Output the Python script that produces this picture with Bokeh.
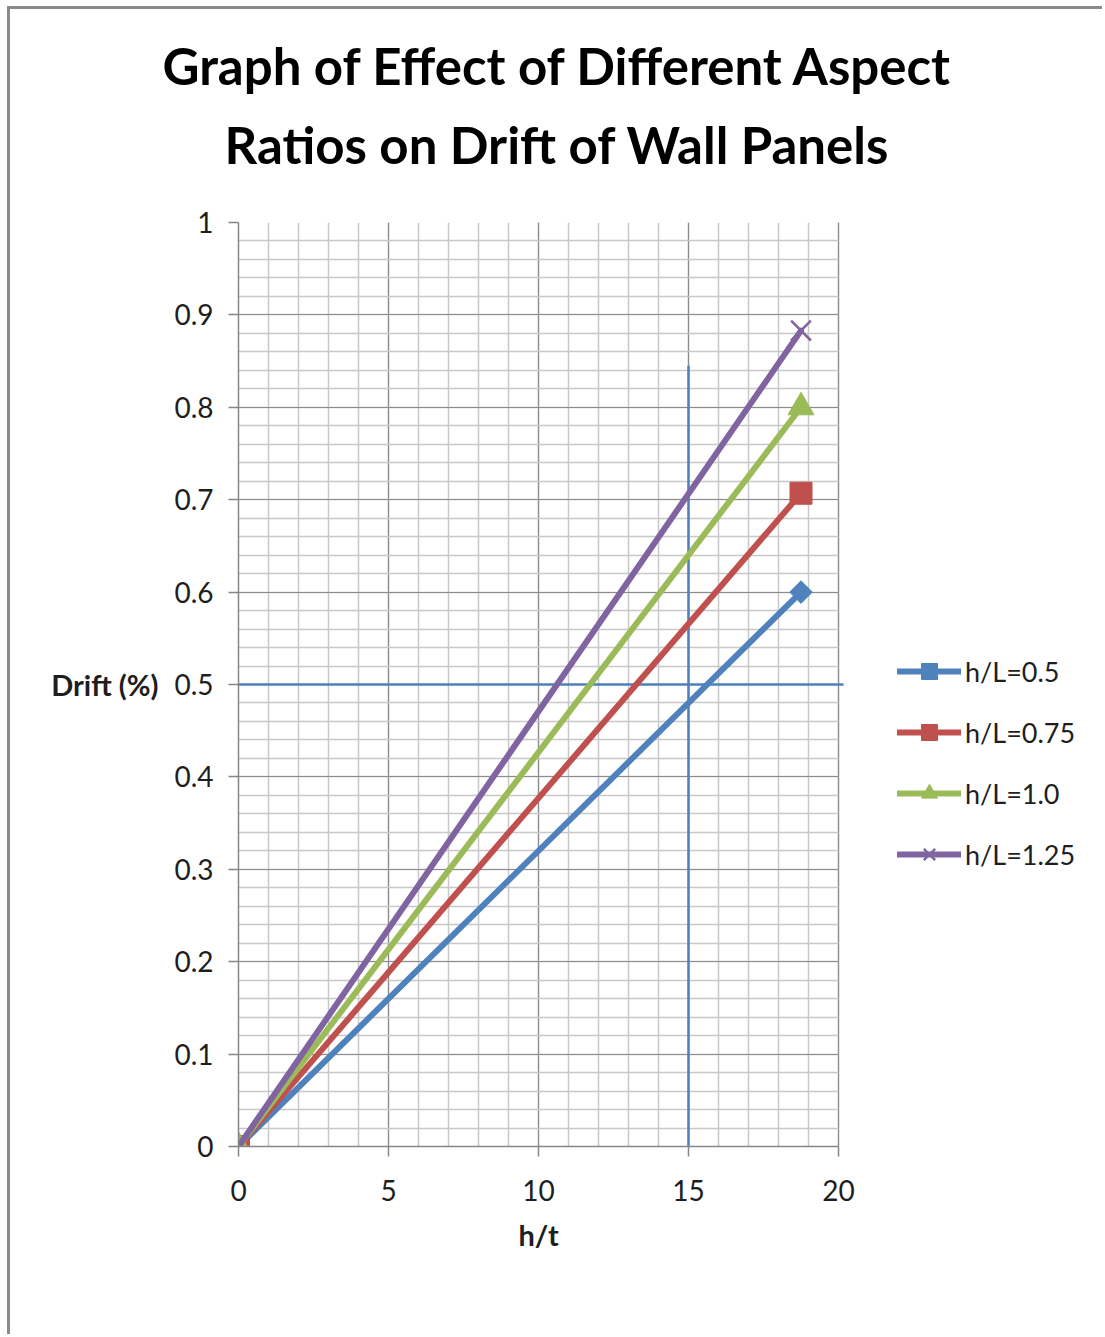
import math

from bokeh.embed import file_html
from bokeh.models import (CustomJSTickFormatter, FixedTicker, Legend,
                          LegendItem, Range1d, Title)
from bokeh.plotting import figure
from bokeh.resources import INLINE

# ---- data -------------------------------------------------------------
ht_values = [0, 18.75]                 # h/t
drift_hl_050 = [0, 0.600]              # drift (%) for h/L = 0.5
drift_hl_075 = [0, 0.707]              # drift (%) for h/L = 0.75
drift_hl_100 = [0, 0.800]              # drift (%) for h/L = 1.0
drift_hl_125 = [0, 0.883]              # drift (%) for h/L = 1.25
series_labels = ["h/L=0.5", "h/L=0.75", "h/L=1.0", "h/L=1.25"]

x_ticks = [0, 5, 10, 15, 20]
y_ticks = [0, 0.1, 0.2, 0.3, 0.4, 0.5, 0.6, 0.7, 0.8, 0.9, 1.0]
x_max, y_max = 20, 1

limit_drift = 0.5       # horizontal reference line (drift %)
limit_ht = 15           # vertical reference line (h/t)
limit_ht_top = 0.845    # upper end of the h/t reference line

# ---- styling ----------------------------------------------------------
FONT = "Lato"
BLUE, RED, GREEN, PURPLE = "#4F81BD", "#C0504D", "#9BBB59", "#8064A2"
TEXT = "#1e1e1e"
AXIS_GREY = "#868686"

# The plot area continues to the right of h/t = 20 so that the legend can
# sit beside the grid; axis and grid are bounded to the 0..20 span.
p = figure(
    width=1095, height=1328,
    min_border_left=228, min_border_right=0,
    min_border_top=213, min_border_bottom=191,
    x_range=Range1d(0, 28.9), y_range=Range1d(0, y_max),
    output_backend="svg", toolbar_location=None, tools="",
    background_fill_color="white", border_fill_color="white",
)
p.outline_line_color = None
# chart-area border (top and left edges)
p.styles = {"margin-left": "7px", "margin-top": "6px",
            "border-left": "3px solid #8a8a8a",
            "border-top": "3px solid #8a8a8a"}

# two-line title, nearest line first
for txt, off, stand in [("Ratios on Drift of Wall Panels", -14, 95),
                        ("Graph of Effect of Different Aspect", -76, -62)]:
    p.add_layout(Title(text=txt, align="left", offset=off, standoff=stand,
                       text_font=FONT, text_font_size="51px",
                       text_font_style="bold", text_color="black"), "above")

# ---- grid -------------------------------------------------------------
minor_x = [i for i in range(21)]
minor_y = [round(i * 0.02, 2) for i in range(51)]
p.xgrid.ticker = FixedTicker(ticks=x_ticks, minor_ticks=minor_x)
p.ygrid.ticker = FixedTicker(ticks=y_ticks, minor_ticks=minor_y)
for g in (p.xgrid, p.ygrid):
    g.grid_line_color = "#8c8c8c"
    g.grid_line_width = 1.2
    g.minor_grid_line_color = "#c8c8c8"
    g.minor_grid_line_width = 1.5
p.xgrid.bounds = (0, x_max)
p.xgrid.cross_bounds = (0, y_max)
p.ygrid.bounds = (0, y_max)
p.ygrid.cross_bounds = (0, x_max)

# ---- axes -------------------------------------------------------------
for ax in (p.xaxis[0], p.yaxis[0]):
    ax.axis_line_color = AXIS_GREY
    ax.axis_line_width = 1.5
    ax.major_tick_line_color = AXIS_GREY
    ax.major_tick_line_width = 1.5
    ax.major_tick_in = 0
    ax.major_tick_out = 10
    ax.minor_tick_line_color = None
    ax.major_label_text_font = FONT
    ax.major_label_text_font_size = "28px"
    ax.major_label_text_color = TEXT
    ax.axis_label_text_font = FONT
    ax.axis_label_text_font_size = "29px"
    ax.axis_label_text_font_style = "bold"
    ax.axis_label_text_color = TEXT

p.xaxis.bounds = (0, x_max)
p.xaxis.ticker = FixedTicker(ticks=x_ticks)
p.yaxis.ticker = FixedTicker(ticks=y_ticks)
p.yaxis.formatter = CustomJSTickFormatter(code="return String(Math.round(tick*10)/10);")
p.xaxis.major_label_standoff = 23
p.yaxis.major_label_standoff = 15

# x-axis title, centred under the 0..20 span of the axis
p.add_layout(Title(text="h/t", align="left", offset=280, standoff=23,
                   text_font=FONT, text_font_size="29px",
                   text_font_style="bold", text_color=TEXT), "below")

p.yaxis.axis_label = "Drift (%)"
p.yaxis.axis_label_standoff = 13
if "axis_label_orientation" in p.yaxis[0].properties():
    p.yaxis.axis_label_orientation = "horizontal"

# ---- reference lines --------------------------------------------------
p.segment(x0=[-0.37], y0=[limit_drift], x1=[20.17], y1=[limit_drift],
          line_color=BLUE, line_width=2.5)
p.segment(x0=[limit_ht], y0=[0], x1=[limit_ht], y1=[limit_ht_top],
          line_color=BLUE, line_width=2.5)

# ---- series -----------------------------------------------------------
series = [
    (drift_hl_050, BLUE, "square", 16, math.pi / 4),
    (drift_hl_075, RED, "square", 22, 0),
    (drift_hl_100, GREEN, "triangle", 26, 0),
    (drift_hl_125, PURPLE, "x", 28, 0),
]
items = []
for (ys, color, marker, size, angle), label in zip(series, series_labels):
    ln = p.line(ht_values, ys, line_color=color, line_width=6, line_cap="round")
    if marker == "x":
        sc = p.scatter(ht_values, ys, marker=marker, size=size,
                       line_color=color, line_width=2.5)
    else:
        sc = p.scatter(ht_values, ys, marker=marker, size=size, angle=angle,
                       fill_color=color, line_color=color, line_width=1)
    items.append(LegendItem(label=label, renderers=[ln, sc]))

legend = Legend(items=items, location=(659, 272),
                glyph_width=64, glyph_height=40, label_height=40,
                spacing=21, padding=0, margin=0, label_standoff=4,
                label_text_font=FONT, label_text_font_size="27px",
                label_text_color=TEXT,
                border_line_color=None, background_fill_alpha=0)
p.add_layout(legend, "center")

open("out.html", "w").write(file_html(p, INLINE))
